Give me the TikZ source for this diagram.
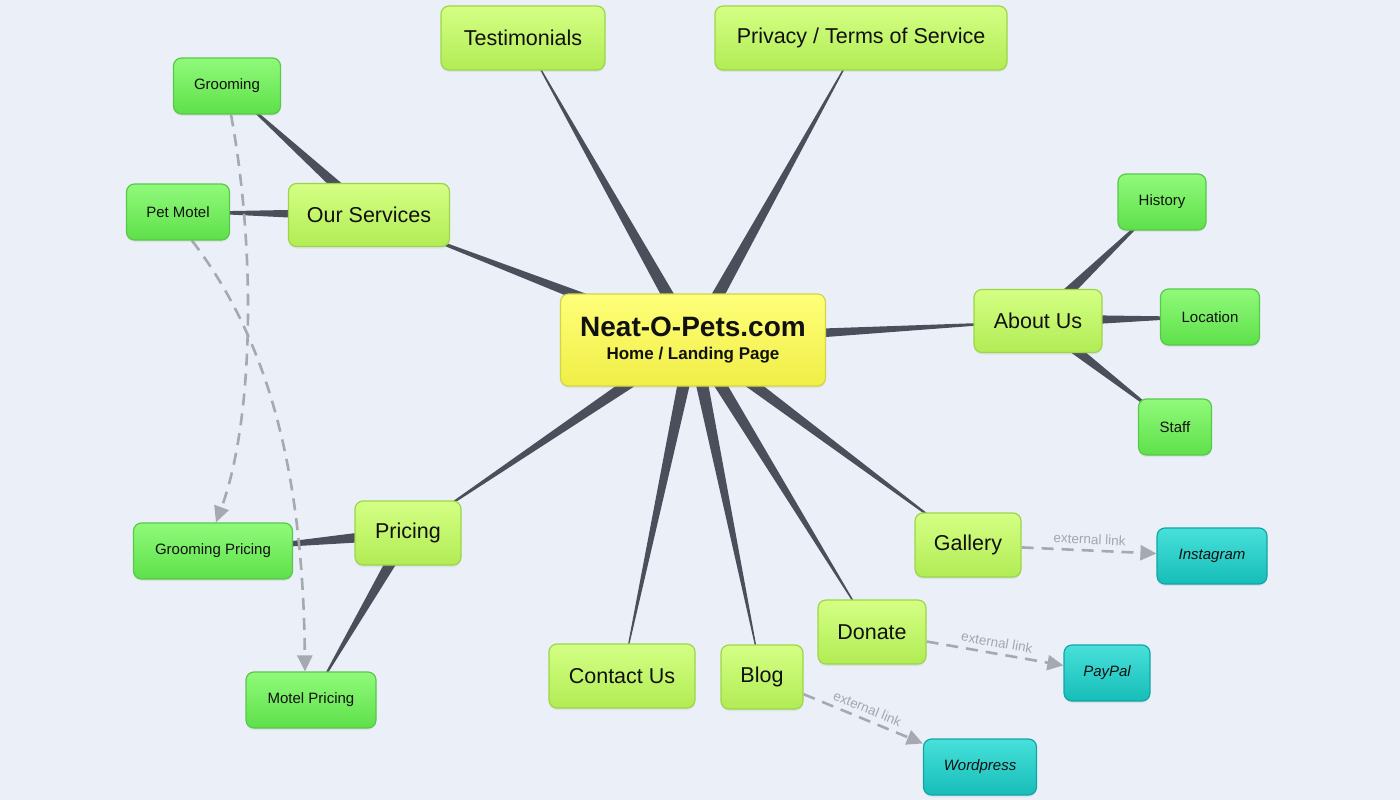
\documentclass[tikz,border=0pt]{standalone}
\usepackage{fontspec}
\setmainfont{Liberation Sans}
\usetikzlibrary{calc,shadows,arrows.meta}
\pgfdeclarelayer{bg}
\pgfsetlayers{bg,main}
\definecolor{bgcol}{HTML}{EBF0F8}
\definecolor{conncol}{HTML}{4B4F5B}
\definecolor{dashcol}{HTML}{A6A9B0}
\definecolor{labcol}{HTML}{A3A7AE}
\definecolor{txt}{HTML}{111111}
\definecolor{ctop}{HTML}{FFFF7A}
\definecolor{cbot}{HTML}{F0EE46}
\definecolor{cbord}{HTML}{D2D448}
\definecolor{ltop}{HTML}{D4FF84}
\definecolor{lbot}{HTML}{B2EC55}
\definecolor{lbord}{HTML}{9CD648}
\definecolor{gtop}{HTML}{90FA7A}
\definecolor{gbot}{HTML}{5EE04A}
\definecolor{gbord}{HTML}{58C84A}
\definecolor{ttop}{HTML}{48E0DA}
\definecolor{tbot}{HTML}{16BDB8}
\definecolor{tbord}{HTML}{12A5A5}
\newcommand\taper[3]{\fill[conncol] ($(#1.center)!#3!90:(#2.center)$) -- (#2.center) -- ($(#1.center)!#3!-90:(#2.center)$) -- cycle;}
\begin{document}
\begin{tikzpicture}[x=1pt,y=1pt,
  box/.style={rounded corners=8pt, line width=1.2pt, inner sep=0pt, text=txt,
    drop shadow={opacity=0.12, shadow xshift=0pt, shadow yshift=-2pt}},
  rootbox/.style={box, draw=cbord, top color=ctop, bottom color=cbot, align=center},
  lone/.style={box, draw=lbord, top color=ltop, bottom color=lbot, minimum height=64pt,
    font=\fontsize{21.5}{25}\selectfont},
  ltwo/.style={box, draw=gbord, top color=gtop, bottom color=gbot, minimum height=56pt,
    font=\fontsize{15}{18}\selectfont},
  lext/.style={box, draw=tbord, top color=ttop, bottom color=tbot, minimum height=56pt,
    font=\fontsize{15}{18}\selectfont\itshape},
  extarrow/.style={draw=dashcol, line width=2.6pt, dash pattern=on 12pt off 8pt,
    -{Triangle[length=16pt,width=15pt,fill=dashcol]}},
  extlab/.style={text=labcol, font=\fontsize{13.5}{16}\selectfont, sloped, above=3pt, inner sep=2pt}
]
\begin{pgfonlayer}{bg}
\fill[bgcol] (0,0) rectangle (1400,-800);
\end{pgfonlayer}
\useasboundingbox (0,0) rectangle (1400,-800);

% root
\node[rootbox, minimum width=265pt, minimum height=92pt] (home) at (693,-340)
  {\raisebox{-3pt}{\fontsize{28}{28}\selectfont\bfseries Neat-O-Pets.com}\\[10pt]{\fontsize{17}{17}\selectfont\bfseries Home / Landing Page}};

% level one
\node[lone, minimum width=164pt] (testi) at (523,-38) {Testimonials};
\node[lone, minimum width=292pt] (priv) at (861,-38) {Privacy / Terms of Service};
\node[lone, minimum width=161pt, minimum height=63pt] (serv) at (369,-215) {Our Services};
\node[lone, minimum width=128pt, minimum height=63pt] (about) at (1038,-321) {About Us};
\node[lone, minimum width=106pt] (pricing) at (408,-533) {Pricing};
\node[lone, minimum width=146pt] (contact) at (622,-676) {Contact Us};
\node[lone, minimum width=82pt] (blog) at (762,-677) {Blog};
\node[lone, minimum width=108pt] (donate) at (872,-632) {Donate};
\node[lone, minimum width=106pt] (gallery) at (968,-545) {Gallery};

% level two
\node[ltwo, minimum width=107pt] (groom) at (227,-86) {Grooming};
\node[ltwo, minimum width=103pt] (motel) at (178,-212) {Pet Motel};
\node[ltwo, minimum width=88pt] (hist) at (1162,-202) {History};
\node[ltwo, minimum width=99pt] (loc) at (1210,-317) {Location};
\node[ltwo, minimum width=73pt] (staff) at (1175,-427) {Staff};
\node[ltwo, minimum width=159pt] (gprice) at (213,-551) {Grooming Pricing};
\node[ltwo, minimum width=130pt] (mprice) at (311,-700) {Motel Pricing};

% external
\node[lext, minimum width=110pt] (insta) at (1212,-556) {Instagram};
\node[lext, minimum width=86pt] (paypal) at (1107,-673) {PayPal};
\node[lext, minimum width=113pt] (wp) at (980,-767) {Wordpress};

\begin{pgfonlayer}{bg}
\taper{home}{testi}{7pt}
\taper{home}{priv}{7pt}
\taper{home}{serv}{7pt}
\taper{home}{about}{7pt}
\taper{home}{pricing}{7pt}
\taper{home}{contact}{7pt}
\taper{home}{blog}{7pt}
\taper{home}{donate}{7pt}
\taper{home}{gallery}{7pt}
\taper{serv}{groom}{6.5pt}
\taper{serv}{motel}{6.5pt}
\taper{about}{hist}{6.5pt}
\taper{about}{loc}{6.5pt}
\taper{about}{staff}{6.5pt}
\taper{pricing}{gprice}{6.5pt}
\taper{pricing}{mprice}{6.5pt}

\draw[extarrow] ([xshift=4pt]groom.south) .. controls (256,-250) and (254,-420) .. ([xshift=3pt]gprice.north);
\draw[extarrow] ([xshift=14pt]motel.south) .. controls (268,-340) and (303,-470) .. ([xshift=-6pt]mprice.north);
\draw[extarrow] (gallery) -- node[extlab] {external link} (insta);
\draw[extarrow] (donate) -- node[extlab] {external link} (paypal);
\draw[extarrow] (blog) -- node[extlab] {external link} (wp);
\end{pgfonlayer}
\end{tikzpicture}
\end{document}
